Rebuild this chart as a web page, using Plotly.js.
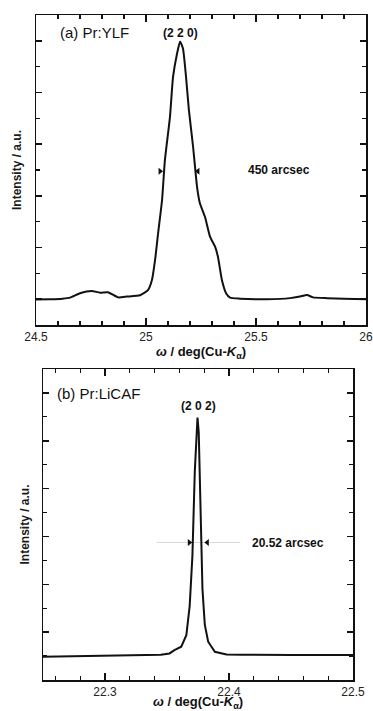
<!DOCTYPE html>
<html>
<head>
<meta charset="utf-8">
<script src="https://cdn.plot.ly/plotly-3.0.1.min.js"></script>
<style>html,body{margin:0;padding:0;background:#fff;}#chart{width:373px;height:711px;}</style>
</head>
<body>
<div id="chart"></div>
<script>
// Panel (a) Pr:YLF (2 2 0) rocking curve
const omegaA = [24.5, 24.564, 24.62, 24.655, 24.70, 24.753, 24.791, 24.827, 24.873, 24.914, 24.973, 25.009, 25.027, 25.041, 25.055, 25.073, 25.086, 25.109, 25.123, 25.141, 25.155, 25.168, 25.182, 25.195, 25.214, 25.232, 25.245, 25.268, 25.291, 25.314, 25.327, 25.345, 25.364, 25.382, 25.427, 25.55, 25.655, 25.70, 25.732, 25.759, 25.823, 25.9, 26.0];
const intensA = [0.99, 1.0, 1.02, 1.06, 1.23, 1.32, 1.25, 1.27, 1.07, 1.1, 1.15, 1.35, 1.74, 2.5, 3.55, 4.84, 6.39, 8.06, 9.61, 10.5, 10.97, 10.7, 9.6, 8.32, 6.9, 5.35, 4.71, 4.19, 3.42, 3.03, 2.64, 1.74, 1.23, 1.06, 1.02, 1.0, 1.04, 1.1, 1.16, 1.07, 1.04, 1.02, 1.0];
const fwhmArrowsA = [25.064, 25.236];
const fwhmLevelA = 5.95;

// Panel (b) Pr:LiCAF (2 0 2) rocking curve
const omegaB = [22.25, 22.27, 22.295, 22.31, 22.325, 22.336, 22.345, 22.352, 22.356, 22.3615, 22.3656, 22.3683, 22.3705, 22.3724, 22.3737, 22.3746, 22.3756, 22.377, 22.3786, 22.3805, 22.3832, 22.3886, 22.398, 22.41, 22.43, 22.45, 22.475, 22.5];
const intensB = [0.97, 0.99, 1.0, 1.01, 1.02, 1.04, 1.06, 1.11, 1.25, 1.39, 1.87, 3.1, 5.2, 8.7, 10.5, 10.97, 10.35, 7.3, 3.8, 2.3, 1.6, 1.18, 1.07, 1.06, 1.07, 1.05, 1.05, 1.04];
const fwhmArrowsB = [22.368, 22.3825];
const fwhmGuideB = [22.3415, 22.409];
const fwhmLevelB = 5.75;

// Tick labels
const tickValsA = [24.5, 25, 25.5, 26];
const tickTextA = ['24.5', '25', '25.5', '26'];
const tickValsB = [22.3, 22.4, 22.5];
const tickTextB = ['22.3', '22.4', '22.5'];

const FONT = 'Liberation Sans, Arial, sans-serif';
const INK = '#111';

const traces = [
  {x: omegaA, y: intensA, xaxis: 'x', yaxis: 'y', type: 'scatter', mode: 'lines',
   line: {color: INK, width: 2, shape: 'spline', smoothing: 0.5}, hoverinfo: 'skip'},
  {x: [fwhmArrowsA[0]], y: [fwhmLevelA], xaxis: 'x', yaxis: 'y', type: 'scatter', mode: 'markers',
   marker: {symbol: 'triangle-right', size: 6, color: INK}, hoverinfo: 'skip'},
  {x: [fwhmArrowsA[1]], y: [fwhmLevelA], xaxis: 'x', yaxis: 'y', type: 'scatter', mode: 'markers',
   marker: {symbol: 'triangle-left', size: 6, color: INK}, hoverinfo: 'skip'},
  {x: fwhmGuideB, y: [fwhmLevelB, fwhmLevelB], xaxis: 'x2', yaxis: 'y2', type: 'scatter', mode: 'lines',
   line: {color: '#d8d8d8', width: 1}, hoverinfo: 'skip'},
  {x: omegaB, y: intensB, xaxis: 'x2', yaxis: 'y2', type: 'scatter', mode: 'lines',
   line: {color: INK, width: 2}, hoverinfo: 'skip'},
  {x: [fwhmArrowsB[0]], y: [fwhmLevelB], xaxis: 'x2', yaxis: 'y2', type: 'scatter', mode: 'markers',
   marker: {symbol: 'triangle-right', size: 6, color: INK}, hoverinfo: 'skip'},
  {x: [fwhmArrowsB[1]], y: [fwhmLevelB], xaxis: 'x2', yaxis: 'y2', type: 'scatter', mode: 'markers',
   marker: {symbol: 'triangle-left', size: 6, color: INK}, hoverinfo: 'skip'}
];

const W = 373, H = 711;
function px(x){return x / W;}
function py(y){return 1 - y / H;}

const xTitle = '<b><i>ω</i> / deg(Cu-<i>K</i><sub>α</sub>)</b>';

function xAxis(domain, range, tickvals, ticktext, minorDt, anchor){
  return {
    domain: domain, range: range, anchor: anchor,
    showline: true, linecolor: INK, linewidth: 1.5, mirror: 'ticks',
    ticks: 'inside', ticklen: 7, tickwidth: 1.5, tickcolor: INK,
    tickmode: 'array', tickvals: tickvals, ticktext: ticktext,
    minor: {ticks: 'inside', tickmode: 'linear', dtick: minorDt, tick0: tickvals[0], ticklen: 4, tickwidth: 1.2, tickcolor: INK},
    showgrid: false, zeroline: false,
    tickfont: {family: FONT, size: 12, color: '#222'},
    title: {text: xTitle, font: {family: FONT, size: 13, color: INK}, standoff: 4}
  };
}
function yAxis(domain, range, tick0, anchor, standoff){
  return {
    domain: domain, range: range, anchor: anchor,
    showline: true, linecolor: INK, linewidth: 1.5, mirror: 'ticks',
    ticks: 'inside', ticklen: 6, tickwidth: 1.5, tickcolor: INK,
    tickmode: 'linear', tick0: tick0, dtick: 2,
    minor: {ticks: 'inside', tickmode: 'linear', dtick: 1, tick0: 0, ticklen: 4, tickwidth: 1.2, tickcolor: INK},
    showticklabels: false, showgrid: false, zeroline: false,
    title: {text: '<b>Intensity / a.u.</b>', font: {family: FONT, size: 12, color: '#1a1a1a'}, standoff: standoff}
  };
}

const layout = {
  width: W, height: H,
  margin: {l: 0, r: 0, t: 0, b: 0},
  paper_bgcolor: '#fff', plot_bgcolor: '#fff',
  showlegend: false,
  xaxis: xAxis([px(36), px(366)], [24.5, 26], tickValsA, tickTextA, 0.1, 'y'),
  yaxis: yAxis([py(325), py(15)], [0, 12], 1, 'x', 10),
  xaxis2: xAxis([px(43), px(353)], [22.25, 22.5], tickValsB, tickTextB, 0.02, 'y2'),
  yaxis2: yAxis([py(680), py(369)], [0, 13], 0, 'x2', 9),
  annotations: [
    {xref: 'paper', yref: 'paper', x: px(58), y: py(33), xanchor: 'left', yanchor: 'middle',
     text: '(a) Pr:YLF', showarrow: false, font: {family: FONT, size: 15, color: INK}},
    {xref: 'paper', yref: 'paper', x: px(180), y: py(33), xanchor: 'center', yanchor: 'middle',
     text: '<b>(2 2 0)</b>', showarrow: false, font: {family: FONT, size: 12, color: INK}},
    {xref: 'paper', yref: 'paper', x: px(246), y: py(170), xanchor: 'left', yanchor: 'middle',
     text: '<b>450 arcsec</b>', showarrow: false, font: {family: FONT, size: 12, color: INK}},
    {xref: 'paper', yref: 'paper', x: px(55), y: py(393), xanchor: 'left', yanchor: 'middle',
     text: '(b) Pr:LiCAF', showarrow: false, font: {family: FONT, size: 15, color: INK}},
    {xref: 'paper', yref: 'paper', x: px(198), y: py(406), xanchor: 'center', yanchor: 'middle',
     text: '<b>(2 0 2)</b>', showarrow: false, font: {family: FONT, size: 12, color: INK}},
    {xref: 'paper', yref: 'paper', x: px(250), y: py(543), xanchor: 'left', yanchor: 'middle',
     text: '<b>20.52 arcsec</b>', showarrow: false, font: {family: FONT, size: 12, color: INK}}
  ]
};

Plotly.newPlot('chart', traces, layout, {staticPlot: true, displayModeBar: false});
</script>
</body>
</html>
